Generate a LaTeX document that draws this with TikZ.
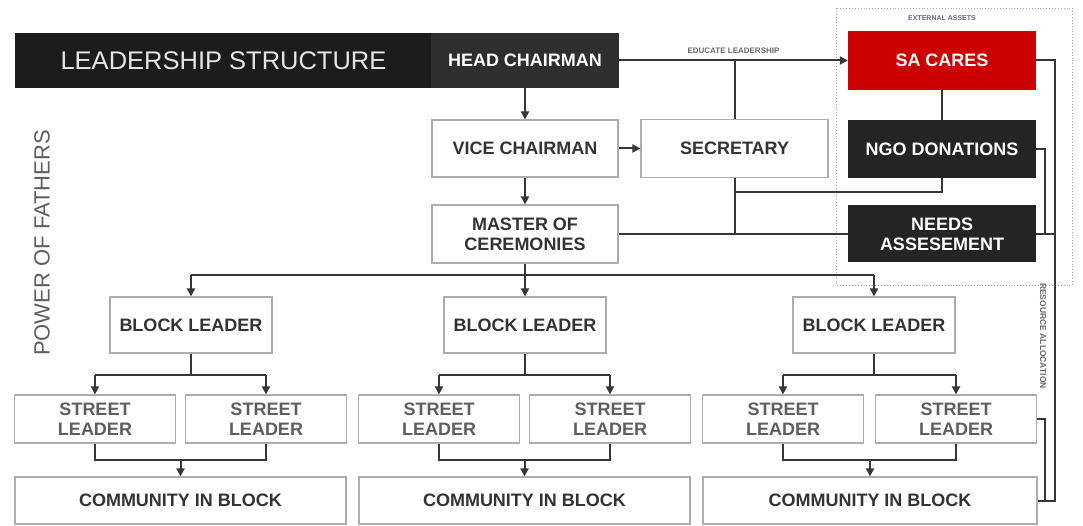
\documentclass[tikz,border=0pt]{standalone}
\usepackage{fontspec}
\setmainfont{Liberation Sans}
\usetikzlibrary{arrows.meta}
\definecolor{lc}{HTML}{363636}
\definecolor{bordc}{HTML}{ADADAD}
\definecolor{txtc}{HTML}{333333}
\definecolor{sltxt}{HTML}{5E5E5E}
\definecolor{darkbox}{HTML}{242424}
\definecolor{titlebg}{HTML}{1C1C1C}
\definecolor{hcbg}{HTML}{2E2E2E}
\definecolor{sared}{HTML}{CC0000}
\definecolor{smalltxt}{HTML}{6A6A6A}
\begin{document}
\begin{tikzpicture}[x=1pt,y=-1pt,
  box/.style={draw=bordc, line width=1.2pt, fill=white, inner sep=0pt, align=center,
    font=\fontsize{18}{20}\selectfont\bfseries, text=txtc},
  slbox/.style={box, text=sltxt, minimum width=161, minimum height=48},
  blbox/.style={box, minimum width=162, minimum height=56},
  cbbox/.style={box, minimum height=47},
  dbox/.style={draw=none, inner sep=0pt, align=center, text=white,
    font=\fontsize{18}{20}\selectfont\bfseries, minimum width=188},
  conn/.style={draw=lc, line width=2pt},
  arr/.style={conn, -{Triangle[length=8pt,width=8pt]}},
  tiny/.style={font=\fontsize{7}{8}\selectfont\bfseries, text=smalltxt, inner sep=1pt}]
\useasboundingbox (0,0) rectangle (1083,526);
\fill[white] (0,0) rectangle (1083,526);

% external assets frame
\draw[bordc, dotted, line width=0.9pt] (836,8) rectangle (1072,285);
\node[tiny] (ext) at (942,18) {EXTERNAL ASSETS};

% header
\node[dbox, fill=titlebg, minimum width=417, minimum height=55, text=white!90!black,
  font=\fontsize{25.5}{28}\selectfont] (title) at (223.5,60.5) {LEADERSHIP STRUCTURE};
\node[dbox, fill=hcbg, minimum height=55] (hc) at (525,60.5) {HEAD CHAIRMAN};

% external
\node[dbox, fill=sared, minimum height=59] (sa) at (942,60.5) {SA CARES};
\node[dbox, fill=darkbox, minimum height=58] (ngo) at (942,149) {NGO DONATIONS};
\node[dbox, fill=darkbox, minimum height=57] (na) at (942,234) {NEEDS\\ASSESEMENT};

% council
\node[box, minimum width=186, minimum height=57] (vc) at (525,148.5) {VICE CHAIRMAN};
\node[box, minimum width=187, minimum height=58] (sec) at (734.5,148.5) {SECRETARY};
\node[box, minimum width=186, minimum height=58] (mc) at (525,234) {MASTER OF\\CEREMONIES};

% block leaders
\node[blbox] (bl1) at (191,325) {BLOCK LEADER};
\node[blbox] (bl2) at (525,325) {BLOCK LEADER};
\node[blbox] (bl3) at (874,325) {BLOCK LEADER};

% street leaders
\node[slbox] (s1) at (95,419) {STREET\\LEADER};
\node[slbox] (s2) at (266,419) {STREET\\LEADER};
\node[slbox] (s3) at (439,419) {STREET\\LEADER};
\node[slbox] (s4) at (610,419) {STREET\\LEADER};
\node[slbox] (s5) at (783,419) {STREET\\LEADER};
\node[slbox] (s6) at (956,419) {STREET\\LEADER};

% communities
\node[cbbox, minimum width=331] (c1) at (180.5,500.5) {COMMUNITY IN BLOCK};
\node[cbbox, minimum width=331] (c2) at (524.5,500.5) {COMMUNITY IN BLOCK};
\node[cbbox, minimum width=334] (c3) at (870,500.5) {COMMUNITY IN BLOCK};

% side label
\node[rotate=90, font=\fontsize{22}{24}\selectfont, text=sltxt, inner sep=0pt] (pof) at (42,243) {POWER OF FATHERS};

% --- connectors ---
\draw[arr] (hc.east) -- (sa.west) node[tiny, font=\fontsize{8}{9}\selectfont\bfseries, pos=0.5, above=5pt] (edu) {EDUCATE LEADERSHIP};
\draw[conn] (sec.north |- hc.east) -- (sec.north);
\draw[arr] (hc.south) -- (vc.north);
\draw[arr] (vc.east) -- (sec.west);
\draw[arr] (vc.south) -- (mc.north);
\draw[conn] (mc.east) -- (na.west);
\draw[conn] (sec.south) -- (sec.south |- mc.east);
\coordinate (k) at (sec.south |- 0,192);
\draw[conn] (ngo.south) |- (k);
\draw[conn] (sa.south) -- (ngo.north);

% resource allocation loop
\coordinate (rOut) at (1055,60.5);
\coordinate (rIn) at (1045,149);
\draw[conn] (sa.east) -- (rOut) -- (rOut |- c3.east) -- (c3.east);
\draw[conn] (ngo.east) -- (rIn) -- (rIn |- na.east);
\draw[conn] (na.east) -- (rOut |- na.east);
\draw[conn] (s6.east) -- (rIn |- s6.east) -- (rIn |- c3.east);
\node[tiny, font=\fontsize{8.5}{9}\selectfont\bfseries, rotate=-90] (res) at (1043,336) {RESOURCE ALLOCATION};

% to block leaders
\coordinate (m) at (mc.south |- 0,275);
\draw[conn] (mc.south) -- (m);
\draw[conn] (bl1.north |- m) -- (bl3.north |- m);
\draw[arr] (bl1.north |- m) -- (bl1.north);
\draw[arr] (m) -- (bl2.north);
\draw[arr] (bl3.north |- m) -- (bl3.north);

% block leader -> street leaders -> community
\foreach \b/\l/\r/\c in {bl1/s1/s2/c1, bl2/s3/s4/c2, bl3/s5/s6/c3} {
  \draw[conn] (\b.south) -- (\b.south |- 0,375);
  \draw[conn] (\l.north |- 0,375) -- (\r.north |- 0,375);
  \draw[arr] (\l.north |- 0,375) -- (\l.north);
  \draw[arr] (\r.north |- 0,375) -- (\r.north);
  \draw[conn] (\l.south) -- (\l.south |- 0,460) -- (\r.south |- 0,460) -- (\r.south);
  \draw[arr] (\c.north |- 0,460) -- (\c.north);
}
\end{tikzpicture}
\end{document}
